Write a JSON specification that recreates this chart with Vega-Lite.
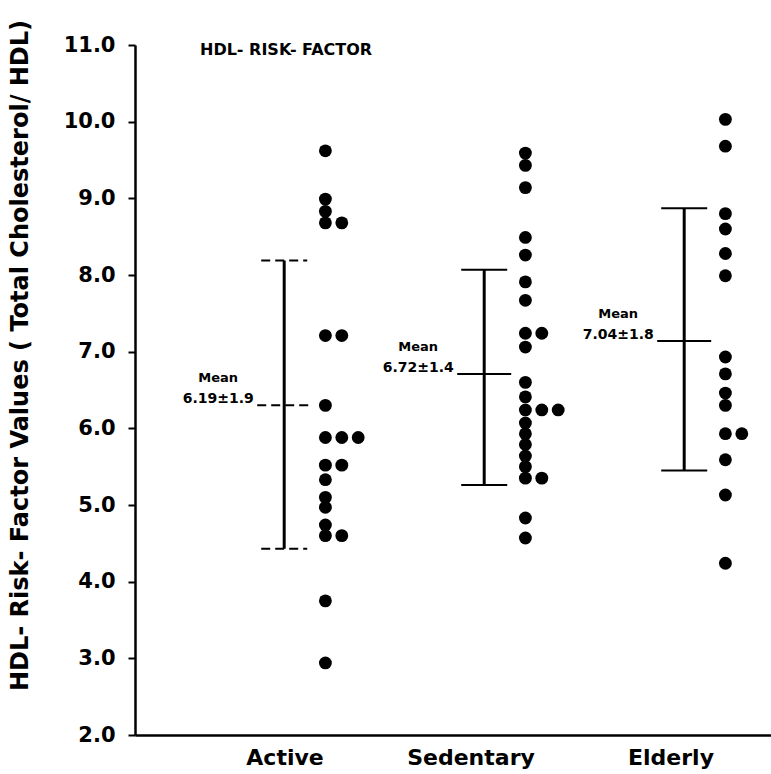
{
  "$schema": "https://vega.github.io/schema/vega-lite/v6.json",
  "width": 636,
  "height": 690,
  "autosize": {"type": "none"},
  "padding": {"left": 135, "top": 45, "right": 0, "bottom": 39},
  "background": "white",
  "title": {
    "text": "HDL- RISK- FACTOR",
    "anchor": "start",
    "frame": "group",
    "dx": 65,
    "dy": 47,
    "offset": 0,
    "baseline": "middle",
    "font": "DejaVu Sans",
    "fontSize": 16,
    "fontWeight": "bold",
    "color": "black"
  },
  "config": {
    "view": {"stroke": null},
    "font": "DejaVu Sans",
    "axis": {
      "grid": false,
      "domainColor": "black",
      "domainWidth": 2.5,
      "tickColor": "black",
      "tickWidth": 2,
      "labelColor": "black",
      "titleColor": "black",
      "labelFont": "DejaVu Sans",
      "titleFont": "DejaVu Sans",
      "labelFontWeight": "bold",
      "titleFontWeight": "bold"
    },
    "axisY": {
      "tickSize": 7,
      "labelPadding": 13,
      "labelFontSize": 21,
      "titleFontSize": 24,
      "titleX": -103,
      "titleY": 310
    },
    "axisX": {
      "ticks": false,
      "labelPadding": 12,
      "labelFontSize": 22,
      "labelAngle": 0
    }
  },
  "datasets": {
    "points": [
      {"group": "Active", "value": 9.62},
      {"group": "Active", "value": 8.99},
      {"group": "Active", "value": 8.83},
      {"group": "Active", "value": 8.68},
      {"group": "Active", "value": 8.68},
      {"group": "Active", "value": 7.21},
      {"group": "Active", "value": 7.21},
      {"group": "Active", "value": 6.30},
      {"group": "Active", "value": 5.88},
      {"group": "Active", "value": 5.88},
      {"group": "Active", "value": 5.88},
      {"group": "Active", "value": 5.52},
      {"group": "Active", "value": 5.52},
      {"group": "Active", "value": 5.33},
      {"group": "Active", "value": 5.10},
      {"group": "Active", "value": 4.97},
      {"group": "Active", "value": 4.74},
      {"group": "Active", "value": 4.60},
      {"group": "Active", "value": 4.60},
      {"group": "Active", "value": 3.75},
      {"group": "Active", "value": 2.94},
      {"group": "Sedentary", "value": 9.59},
      {"group": "Sedentary", "value": 9.43},
      {"group": "Sedentary", "value": 9.14},
      {"group": "Sedentary", "value": 8.49},
      {"group": "Sedentary", "value": 8.26},
      {"group": "Sedentary", "value": 7.91},
      {"group": "Sedentary", "value": 7.67},
      {"group": "Sedentary", "value": 7.24},
      {"group": "Sedentary", "value": 7.24},
      {"group": "Sedentary", "value": 7.06},
      {"group": "Sedentary", "value": 6.60},
      {"group": "Sedentary", "value": 6.41},
      {"group": "Sedentary", "value": 6.24},
      {"group": "Sedentary", "value": 6.24},
      {"group": "Sedentary", "value": 6.24},
      {"group": "Sedentary", "value": 6.07},
      {"group": "Sedentary", "value": 5.93},
      {"group": "Sedentary", "value": 5.79},
      {"group": "Sedentary", "value": 5.64},
      {"group": "Sedentary", "value": 5.50},
      {"group": "Sedentary", "value": 5.35},
      {"group": "Sedentary", "value": 5.35},
      {"group": "Sedentary", "value": 4.83},
      {"group": "Sedentary", "value": 4.57},
      {"group": "Elderly", "value": 10.03},
      {"group": "Elderly", "value": 9.68},
      {"group": "Elderly", "value": 8.80},
      {"group": "Elderly", "value": 8.60},
      {"group": "Elderly", "value": 8.28},
      {"group": "Elderly", "value": 7.99},
      {"group": "Elderly", "value": 6.93},
      {"group": "Elderly", "value": 6.71},
      {"group": "Elderly", "value": 6.46},
      {"group": "Elderly", "value": 6.30},
      {"group": "Elderly", "value": 5.93},
      {"group": "Elderly", "value": 5.93},
      {"group": "Elderly", "value": 5.59},
      {"group": "Elderly", "value": 5.13},
      {"group": "Elderly", "value": 4.24}
    ],
    "summary": [
      {"group": "Active", "mean": 6.30, "lo": 4.43, "hi": 8.19, "label": "6.19±1.9"},
      {"group": "Sedentary", "mean": 6.71, "lo": 5.26, "hi": 8.07, "label": "6.72±1.4"},
      {"group": "Elderly", "mean": 7.14, "lo": 5.45, "hi": 8.87, "label": "7.04±1.8"}
    ]
  },
  "layer": [
    {
      "data": {"name": "summary"},
      "mark": {"type": "rule", "color": "black", "strokeWidth": 3},
      "encoding": {
        "x": {"field": "group", "type": "nominal", "bandPosition": 0.566, "title": null,
              "scale": {"domain": ["Active", "Sedentary", "Elderly"], "paddingInner": 0, "paddingOuter": 0.09, "align": 1},
              "axis": {"labelOffset": {"condition": {"test": "datum.value === 'Active'", "value": 14}, "value": 0}}},
        "y": {"field": "lo", "type": "quantitative", "title": "HDL- Risk- Factor Values ( Total Cholesterol/ HDL)",
              "scale": {"domain": [2, 11], "nice": false, "zero": false},
              "axis": {"values": [2, 3, 4, 5, 6, 7, 8, 9, 10, 11], "format": ".1f"}},
        "y2": {"field": "hi"}
      }
    },
    {
      "data": {"name": "summary"},
      "transform": [{"fold": ["lo", "hi"], "as": ["end", "endValue"]}, {"filter": "datum.group !== 'Active'"}],
      "mark": {"type": "point", "shape": "M-1,0L1,0", "size": 2116, "filled": false, "stroke": "black", "strokeWidth": 2, "opacity": 1},
      "encoding": {
        "x": {"field": "group", "type": "nominal", "bandPosition": 0.566, "title": null,
              "scale": {"domain": ["Active", "Sedentary", "Elderly"], "paddingInner": 0, "paddingOuter": 0.09, "align": 1},
              "axis": {"labelOffset": {"condition": {"test": "datum.value === 'Active'", "value": 14}, "value": 0}}},
        "y": {"field": "endValue", "type": "quantitative", "title": "HDL- Risk- Factor Values ( Total Cholesterol/ HDL)",
              "scale": {"domain": [2, 11], "nice": false, "zero": false},
              "axis": {"values": [2, 3, 4, 5, 6, 7, 8, 9, 10, 11], "format": ".1f"}}
      }
    },
    {
      "data": {"name": "summary"},
      "transform": [{"filter": "datum.group !== 'Active'"}],
      "mark": {"type": "point", "shape": "M-1,0L1,0", "size": 2916, "filled": false, "stroke": "black", "strokeWidth": 2, "opacity": 1},
      "encoding": {
        "x": {"field": "group", "type": "nominal", "bandPosition": 0.566, "title": null,
              "scale": {"domain": ["Active", "Sedentary", "Elderly"], "paddingInner": 0, "paddingOuter": 0.09, "align": 1},
              "axis": {"labelOffset": {"condition": {"test": "datum.value === 'Active'", "value": 14}, "value": 0}}},
        "y": {"field": "mean", "type": "quantitative", "title": "HDL- Risk- Factor Values ( Total Cholesterol/ HDL)",
              "scale": {"domain": [2, 11], "nice": false, "zero": false},
              "axis": {"values": [2, 3, 4, 5, 6, 7, 8, 9, 10, 11], "format": ".1f"}}
      }
    },
    {
      "data": {"name": "summary"},
      "transform": [{"fold": ["lo", "hi"], "as": ["end", "endValue"]}, {"filter": "datum.group === 'Active'"}],
      "mark": {"type": "point", "shape": "M-1,0L1,0", "size": 2116, "filled": false, "stroke": "black", "strokeWidth": 2, "strokeDash": [9, 5], "opacity": 1},
      "encoding": {
        "x": {"field": "group", "type": "nominal", "bandPosition": 0.566, "title": null,
              "scale": {"domain": ["Active", "Sedentary", "Elderly"], "paddingInner": 0, "paddingOuter": 0.09, "align": 1},
              "axis": {"labelOffset": {"condition": {"test": "datum.value === 'Active'", "value": 14}, "value": 0}}},
        "y": {"field": "endValue", "type": "quantitative", "title": "HDL- Risk- Factor Values ( Total Cholesterol/ HDL)",
              "scale": {"domain": [2, 11], "nice": false, "zero": false},
              "axis": {"values": [2, 3, 4, 5, 6, 7, 8, 9, 10, 11], "format": ".1f"}}
      }
    },
    {
      "data": {"name": "summary"},
      "transform": [{"filter": "datum.group === 'Active'"}],
      "mark": {"type": "point", "shape": "M-1,0L1,0", "size": 2916, "filled": false, "stroke": "black", "strokeWidth": 2, "strokeDash": [9, 5], "opacity": 1},
      "encoding": {
        "x": {"field": "group", "type": "nominal", "bandPosition": 0.566, "title": null,
              "scale": {"domain": ["Active", "Sedentary", "Elderly"], "paddingInner": 0, "paddingOuter": 0.09, "align": 1},
              "axis": {"labelOffset": {"condition": {"test": "datum.value === 'Active'", "value": 14}, "value": 0}}},
        "y": {"field": "mean", "type": "quantitative", "title": "HDL- Risk- Factor Values ( Total Cholesterol/ HDL)",
              "scale": {"domain": [2, 11], "nice": false, "zero": false},
              "axis": {"values": [2, 3, 4, 5, 6, 7, 8, 9, 10, 11], "format": ".1f"}}
      }
    },
    {
      "data": {"name": "points"},
      "transform": [
        {"window": [{"op": "row_number", "as": "idx"}], "groupby": ["group", "value"]},
        {"filter": "datum.idx == 1"}
      ],
      "mark": {"type": "circle", "color": "black", "size": 165, "opacity": 1},
      "encoding": {
        "x": {"field": "group", "type": "nominal", "bandPosition": 0.772, "title": null,
              "scale": {"domain": ["Active", "Sedentary", "Elderly"], "paddingInner": 0, "paddingOuter": 0.09, "align": 1},
              "axis": {"labelOffset": {"condition": {"test": "datum.value === 'Active'", "value": 14}, "value": 0}}},
        "y": {"field": "value", "type": "quantitative", "title": "HDL- Risk- Factor Values ( Total Cholesterol/ HDL)",
              "scale": {"domain": [2, 11], "nice": false, "zero": false},
              "axis": {"values": [2, 3, 4, 5, 6, 7, 8, 9, 10, 11], "format": ".1f"}}
      }
    },
    {
      "data": {"name": "points"},
      "transform": [
        {"window": [{"op": "row_number", "as": "idx"}], "groupby": ["group", "value"]},
        {"filter": "datum.idx == 2"}
      ],
      "mark": {"type": "circle", "color": "black", "size": 165, "opacity": 1},
      "encoding": {
        "x": {"field": "group", "type": "nominal", "bandPosition": 0.854, "title": null,
              "scale": {"domain": ["Active", "Sedentary", "Elderly"], "paddingInner": 0, "paddingOuter": 0.09, "align": 1},
              "axis": {"labelOffset": {"condition": {"test": "datum.value === 'Active'", "value": 14}, "value": 0}}},
        "y": {"field": "value", "type": "quantitative", "title": "HDL- Risk- Factor Values ( Total Cholesterol/ HDL)",
              "scale": {"domain": [2, 11], "nice": false, "zero": false},
              "axis": {"values": [2, 3, 4, 5, 6, 7, 8, 9, 10, 11], "format": ".1f"}}
      }
    },
    {
      "data": {"name": "points"},
      "transform": [
        {"window": [{"op": "row_number", "as": "idx"}], "groupby": ["group", "value"]},
        {"filter": "datum.idx == 3"}
      ],
      "mark": {"type": "circle", "color": "black", "size": 165, "opacity": 1},
      "encoding": {
        "x": {"field": "group", "type": "nominal", "bandPosition": 0.936, "title": null,
              "scale": {"domain": ["Active", "Sedentary", "Elderly"], "paddingInner": 0, "paddingOuter": 0.09, "align": 1},
              "axis": {"labelOffset": {"condition": {"test": "datum.value === 'Active'", "value": 14}, "value": 0}}},
        "y": {"field": "value", "type": "quantitative", "title": "HDL- Risk- Factor Values ( Total Cholesterol/ HDL)",
              "scale": {"domain": [2, 11], "nice": false, "zero": false},
              "axis": {"values": [2, 3, 4, 5, 6, 7, 8, 9, 10, 11], "format": ".1f"}}
      }
    },
    {
      "data": {"name": "summary"},
      "mark": {"type": "text", "text": "Mean", "color": "black", "font": "DejaVu Sans", "fontWeight": "bold", "fontSize": 13, "align": "center", "baseline": "middle", "dy": -27},
      "encoding": {
        "x": {"field": "group", "type": "nominal", "bandPosition": 0.236, "title": null,
              "scale": {"domain": ["Active", "Sedentary", "Elderly"], "paddingInner": 0, "paddingOuter": 0.09, "align": 1},
              "axis": {"labelOffset": {"condition": {"test": "datum.value === 'Active'", "value": 14}, "value": 0}}},
        "y": {"field": "mean", "type": "quantitative", "title": "HDL- Risk- Factor Values ( Total Cholesterol/ HDL)",
              "scale": {"domain": [2, 11], "nice": false, "zero": false},
              "axis": {"values": [2, 3, 4, 5, 6, 7, 8, 9, 10, 11], "format": ".1f"}}
      }
    },
    {
      "data": {"name": "summary"},
      "mark": {"type": "text", "color": "black", "font": "DejaVu Sans", "fontWeight": "bold", "fontSize": 14, "align": "center", "baseline": "middle", "dy": -6},
      "encoding": {
        "x": {"field": "group", "type": "nominal", "bandPosition": 0.236, "title": null,
              "scale": {"domain": ["Active", "Sedentary", "Elderly"], "paddingInner": 0, "paddingOuter": 0.09, "align": 1},
              "axis": {"labelOffset": {"condition": {"test": "datum.value === 'Active'", "value": 14}, "value": 0}}},
        "y": {"field": "mean", "type": "quantitative", "title": "HDL- Risk- Factor Values ( Total Cholesterol/ HDL)",
              "scale": {"domain": [2, 11], "nice": false, "zero": false},
              "axis": {"values": [2, 3, 4, 5, 6, 7, 8, 9, 10, 11], "format": ".1f"}},
        "text": {"field": "label"}
      }
    }
  ]
}
